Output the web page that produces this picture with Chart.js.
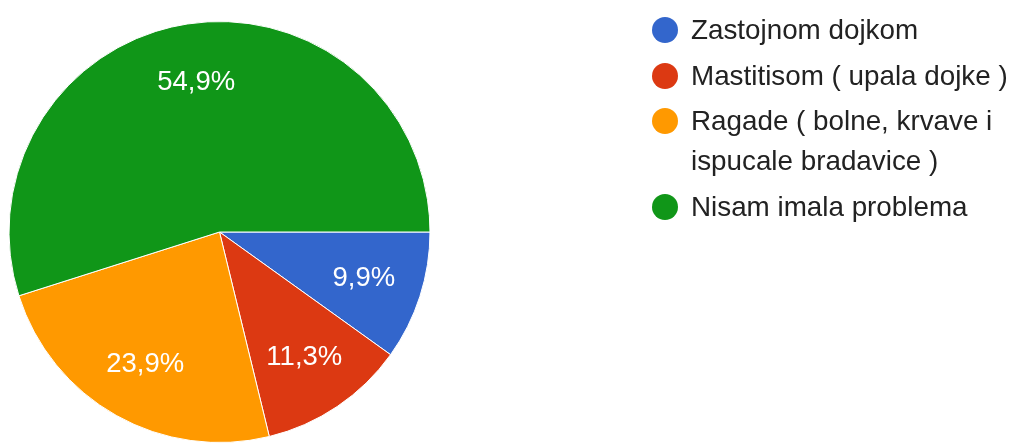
<!DOCTYPE html>
<html>
<head>
<meta charset="utf-8">
<script src="https://cdn.jsdelivr.net/npm/chart.js@4/dist/chart.umd.min.js"></script>
<style>
  html, body { margin: 0; padding: 0; background: #fff; overflow: hidden; }
  #wrap { position: relative; width: 1011px; height: 448px; }
  #c { position: absolute; left: 0; top: 0; }
  #legend { position: absolute; left: 652px; top: 10px; width: 380px;
            font-family: "Liberation Sans", Arial, sans-serif; font-size: 27.8px; color: #222; }
  .item { display: flex; align-items: flex-start; margin-bottom: 5.5px; }
  .dot { flex: 0 0 26px; width: 26px; height: 26px; border-radius: 50%; margin-top: 7px; margin-right: 13px; }
  .txt { line-height: 40px; width: 332px; white-space: normal; }
</style>
</head>
<body>
<div id="wrap">
  <canvas id="c" width="1011" height="448"></canvas>
  <div id="legend"></div>
</div>
<script>
const categories = [
  "Zastojnom dojkom",
  "Mastitisom ( upala dojke )",
  "Ragade ( bolne, krvave i ispucale bradavice )",
  "Nisam imala problema"
];
const values = [9.9, 11.3, 23.9, 54.9];
const colors = ["#3366cc", "#dc3912", "#ff9900", "#109618"];

const legendEl = document.getElementById('legend');
categories.forEach((name, i) => {
  const item = document.createElement('div');
  item.className = 'item';
  const dot = document.createElement('div');
  dot.className = 'dot';
  dot.style.background = colors[i];
  const txt = document.createElement('div');
  txt.className = 'txt';
  txt.textContent = name;
  item.appendChild(dot);
  item.appendChild(txt);
  legendEl.appendChild(item);
});

const sliceLabels = {
  id: 'sliceLabels',
  afterDatasetsDraw(chart) {
    const ctx = chart.ctx;
    const meta = chart.getDatasetMeta(0);
    ctx.save();
    ctx.font = '27.5px "Liberation Sans", Arial, sans-serif';
    ctx.fillStyle = '#ffffff';
    ctx.textAlign = 'center';
    ctx.textBaseline = 'middle';
    meta.data.forEach((arc, i) => {
      const p = arc.getProps(['x', 'y', 'startAngle', 'endAngle', 'outerRadius'], true);
      const mid = (p.startAngle + p.endAngle) / 2;
      const r = p.outerRadius * 0.72;
      const x = p.x + Math.cos(mid) * r;
      const y = p.y + Math.sin(mid) * r;
      const label = values[i].toFixed(1).replace('.', ',') + '%';
      ctx.fillText(label, x, y);
    });
    ctx.restore();
  }
};

new Chart(document.getElementById('c'), {
  type: 'pie',
  data: {
    labels: categories,
    datasets: [{
      data: values,
      backgroundColor: colors,
      borderColor: '#ffffff',
      borderWidth: 1
    }]
  },
  options: {
    responsive: false,
    animation: false,
    rotation: 90,
    layout: { padding: { left: 8.5, top: 21, right: 580.5, bottom: 5 } },
    plugins: {
      legend: { display: false },
      tooltip: { enabled: false }
    }
  },
  plugins: [sliceLabels]
});
</script>
</body>
</html>
